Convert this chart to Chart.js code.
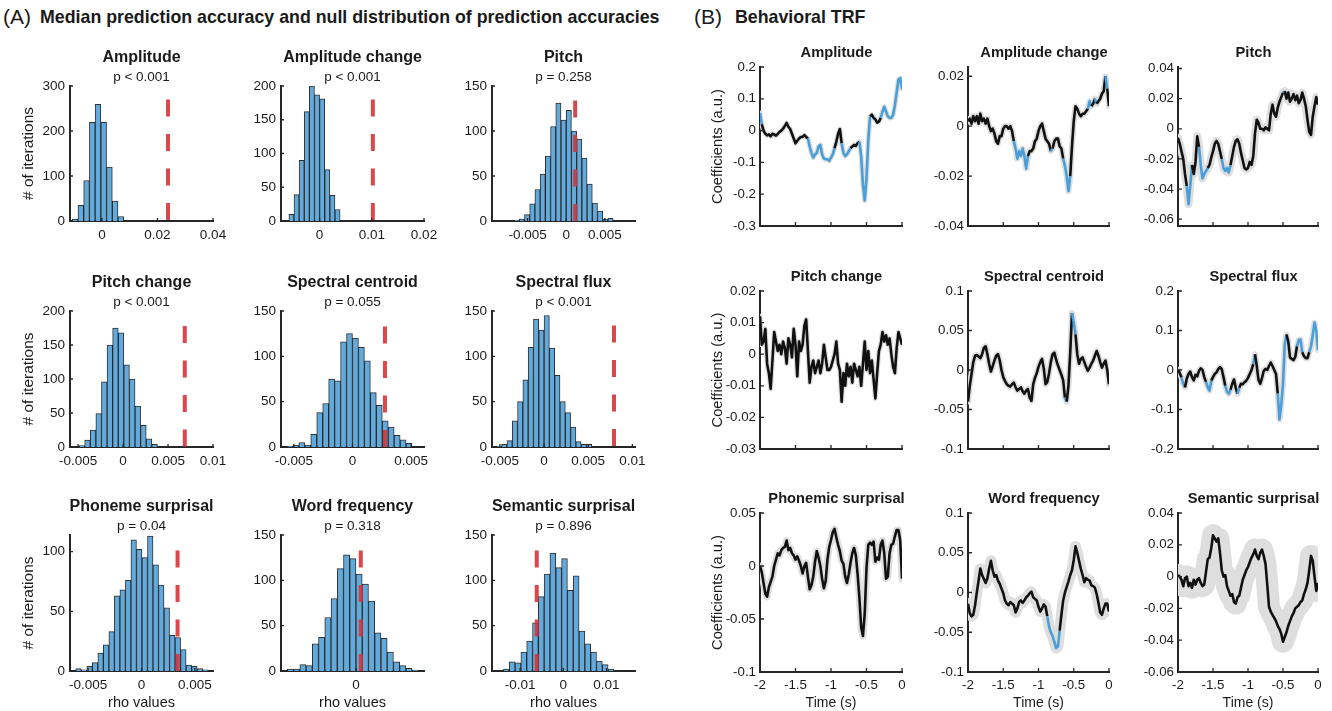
<!DOCTYPE html>
<html><head><meta charset="utf-8">
<script src="https://cdn.jsdelivr.net/npm/chart.js@4.4.1/dist/chart.umd.min.js"></script>
<style>
html,body{margin:0;padding:0;background:#fff;}
body{width:1332px;height:711px;position:relative;overflow:hidden;font-family:"Liberation Sans",Arial,Helvetica,sans-serif;color:#1a1a1a;}
canvas{position:absolute;}
.hdr{position:absolute;white-space:nowrap;line-height:1;}
.lbl{font-size:21px;font-weight:normal;}
.txt{font-size:17.8px;font-weight:bold;}
</style></head><body>
<div class="hdr lbl" style="left:3px;top:6px;">(A)</div>
<div class="hdr txt" style="left:40px;top:9px;">Median prediction accuracy and null distribution of prediction accuracies</div>
<div class="hdr lbl" style="left:694px;top:6px;">(B)</div>
<div class="hdr txt" style="left:735px;top:9px;">Behavioral TRF</div>
<script>
// ================= Panel A: null distributions =================
const histTitles = ['Amplitude','Amplitude change','Pitch','Pitch change','Spectral centroid','Spectral flux','Phoneme surprisal','Word frequency','Semantic surprisal'];
const histP = ['p < 0.001','p < 0.001','p = 0.258','p < 0.001','p = 0.055','p < 0.001','p = 0.04','p = 0.318','p = 0.896'];

const cntAmplitude    = [4,35,90,219,259,219,120,44,10];
const cntAmpChange    = [10,39,90,162,200,187,181,76,38,17];
const cntPitch        = [1,2,7,19,35,52,72,105,131,112,123,100,91,70,41,20,11,2,3];
const cntPitchChange  = [2,10,25,49,96,150,175,168,121,100,60,32,12,4];
const cntSpecCentroid = [1,2,5,2,14,38,48,75,73,116,125,120,110,95,60,46,29,22,13,8,4];
const cntSpecFlux     = [1,3,7,29,50,74,110,141,129,145,109,79,50,38,22,6,3,3];
const cntPhoneme      = [2,1,4,7,15,22,33,63,68,76,110,102,95,113,89,72,53,30,28,18,5,4,2,1];
const cntWordFreq     = [2,2,7,6,30,37,59,80,113,128,124,107,96,77,42,36,21,10,6,3,1];
const cntSemantic     = [2,10,9,21,33,53,82,107,130,114,124,89,105,44,30,21,11,7,2];

// [first bin edge, bin width]
const binAmplitude    = [-0.01069, 0.00206];
const binAmpChange    = [-0.00589, 0.000981];
const binPitch        = [-0.00675, 0.000675];
const binPitchChange  = [-0.00489, 0.000622];
const binSpecCentroid = [-0.00559, 0.000508];
const binSpecFlux     = [-0.00541, 0.000601];
const binPhoneme      = [-0.00616, 0.000517];
const binWordFreq     = [-0.0087, 0.00079];
const binSemantic     = [-0.01385, 0.001346];

// observed median accuracy (red dashed line) and its top
const obsRho = [0.0238, 0.0102, 0.00116, 0.00686, 0.00277, 0.00792, 0.00338, 0.0006, -0.00614];
const obsTop = [270, 180, 134, 178, 133, 134, 101, 133, 133];

const histXRange = [[-0.0115,0.04],[-0.0074,0.02],[-0.0096,0.0089],[-0.0059,0.01],[-0.0061,0.0061],[-0.0059,0.0103],[-0.0067,0.0067],[-0.0095,0.0086],[-0.0165,0.0166]];
const histXTicks = [[0,0.02,0.04],[0,0.01,0.02],[-0.005,0,0.005],[-0.005,0,0.005,0.01],[-0.005,0,0.005],[-0.005,0,0.005,0.01],[-0.005,0,0.005],[0],[-0.01,0,0.01]];
const histYMax   = [300,200,150,200,150,150,114,150,150];
const histYTicks = [[0,100,200,300],[0,50,100,150,200],[0,50,100,150],[0,50,100,150,200],[0,50,100,150],[0,50,100,150],[0,50,100],[0,50,100,150],[0,50,100,150]];

const histCounts = [cntAmplitude,cntAmpChange,cntPitch,cntPitchChange,cntSpecCentroid,cntSpecFlux,cntPhoneme,cntWordFreq,cntSemantic];
const histBins   = [binAmplitude,binAmpChange,binPitch,binPitchChange,binSpecCentroid,binSpecFlux,binPhoneme,binWordFreq,binSemantic];

// ================= Panel B: behavioral TRFs =================
const trfTitles = ['Amplitude','Amplitude change','Pitch','Pitch change','Spectral centroid','Spectral flux','Phonemic surprisal','Word frequency','Semantic surprisal'];
const trfTime = [-2,-1.975,-1.95,-1.925,-1.9,-1.875,-1.85,-1.825,-1.8,-1.775,-1.75,-1.725,-1.7,-1.675,-1.65,-1.625,-1.6,-1.575,-1.55,-1.525,-1.5,-1.475,-1.45,-1.425,-1.4,-1.375,-1.35,-1.325,-1.3,-1.275,-1.25,-1.225,-1.2,-1.175,-1.15,-1.125,-1.1,-1.075,-1.05,-1.025,-1,-0.975,-0.95,-0.925,-0.9,-0.875,-0.85,-0.825,-0.8,-0.775,-0.75,-0.725,-0.7,-0.675,-0.65,-0.625,-0.6,-0.575,-0.55,-0.525,-0.5,-0.475,-0.45,-0.425,-0.4,-0.375,-0.35,-0.325,-0.3,-0.275,-0.25,-0.225,-0.2,-0.175,-0.15,-0.125,-0.1,-0.075,-0.05,-0.025,0];

const trfAmplitude = [0.055,0.02,0.0,-0.01,-0.015,-0.012,-0.018,-0.01,-0.012,-0.016,-0.01,-0.004,0.0,0.006,0.015,0.024,0.012,0.005,-0.01,-0.025,-0.04,-0.032,-0.025,-0.02,-0.02,-0.014,-0.02,-0.025,-0.05,-0.07,-0.085,-0.075,-0.07,-0.05,-0.045,-0.075,-0.088,-0.09,-0.09,-0.095,-0.085,-0.075,-0.055,-0.035,-0.01,0.005,-0.04,-0.07,-0.08,-0.075,-0.065,-0.055,-0.05,-0.045,-0.048,-0.04,-0.035,-0.08,-0.17,-0.22,-0.15,-0.03,0.045,0.05,0.04,0.035,0.025,0.028,0.04,0.06,0.075,0.06,0.045,0.04,0.04,0.05,0.08,0.12,0.16,0.165,0.13];
const trfAmpChange = [0.002,0.003,0.001,0.004,0.002,0.004,0.001,0.005,0.002,0.003,0.001,0.003,0.0,-0.002,-0.001,-0.003,-0.006,-0.007,-0.004,-0.004,-0.001,0.0,0.0,-0.001,0.0,-0.002,-0.006,-0.009,-0.013,-0.01,-0.012,-0.009,-0.012,-0.017,-0.012,-0.01,-0.01,-0.009,-0.006,-0.005,-0.002,0.0,0.001,-0.002,-0.005,-0.006,-0.007,-0.01,-0.009,-0.006,-0.005,-0.005,-0.008,-0.009,-0.013,-0.016,-0.02,-0.026,-0.02,-0.008,0.002,0.008,0.007,0.005,0.004,0.005,0.005,0.006,0.007,0.01,0.008,0.009,0.011,0.009,0.01,0.011,0.013,0.014,0.02,0.015,0.008];
const trfPitch = [-0.006,-0.01,-0.015,-0.02,-0.03,-0.038,-0.05,-0.038,-0.024,-0.03,-0.022,-0.005,-0.012,-0.024,-0.033,-0.03,-0.028,-0.026,-0.024,-0.019,-0.015,-0.01,-0.008,-0.01,-0.015,-0.02,-0.026,-0.028,-0.026,-0.029,-0.024,-0.018,-0.012,-0.008,-0.007,-0.01,-0.016,-0.021,-0.026,-0.027,-0.026,-0.022,-0.024,-0.018,-0.003,0.006,0.004,0.0,0.0,-0.001,0.001,0.0,-0.001,0.01,0.016,0.01,0.008,0.014,0.018,0.021,0.024,0.025,0.02,0.024,0.018,0.02,0.023,0.019,0.022,0.017,0.019,0.024,0.02,0.015,0.006,-0.002,-0.004,0.008,0.015,0.021,0.016];
const trfPitchChange = [0.012,0.003,0.004,0.008,-0.003,-0.006,-0.011,-0.002,0.007,0.004,0.001,0.003,0.0,0.004,0.002,-0.003,0.005,0.003,-0.001,0.008,0.003,-0.007,0.004,0.001,0.003,0.009,0.011,0.001,-0.009,-0.004,-0.002,-0.006,-0.004,-0.002,-0.006,-0.003,0.003,-0.001,-0.005,-0.005,-0.004,-0.002,0.0,0.004,-0.003,-0.005,-0.015,-0.006,-0.01,-0.003,-0.007,-0.004,-0.009,-0.003,-0.005,-0.007,-0.004,-0.01,-0.003,0.004,-0.005,0.001,-0.006,-0.002,-0.008,-0.014,-0.006,0.001,0.003,0.007,0.004,0.006,0.003,0.005,0.0,-0.004,-0.006,0.002,0.007,0.005,0.003];
const trfSpecCentroid = [-0.04,-0.02,-0.005,0.01,0.018,0.019,0.017,0.015,0.02,0.028,0.03,0.02,0.008,-0.002,0.005,0.012,0.018,0.02,0.012,0.0,-0.009,-0.014,-0.018,-0.02,-0.021,-0.018,-0.016,-0.022,-0.026,-0.024,-0.022,-0.027,-0.03,-0.026,-0.024,-0.035,-0.039,-0.018,-0.01,-0.004,0.004,0.01,0.014,0.002,-0.018,-0.015,-0.004,0.01,0.02,0.022,0.013,0.006,0.0,-0.006,-0.013,-0.035,-0.04,-0.02,0.022,0.072,0.06,0.045,0.02,0.008,0.014,0.016,0.01,0.004,-0.001,0.003,0.008,0.012,0.018,0.024,0.018,0.01,0.003,0.008,0.012,0.0,-0.018];
const trfSpecFlux = [0,-0.008,-0.019,-0.035,-0.044,-0.022,-0.01,-0.004,-0.018,-0.026,-0.012,-0.016,-0.002,0.004,0.0,-0.018,-0.03,-0.044,-0.052,-0.027,-0.018,-0.01,-0.006,0.002,0.007,0.002,-0.018,-0.04,-0.055,-0.06,-0.05,-0.035,-0.024,-0.045,-0.06,-0.045,-0.035,-0.036,-0.031,-0.027,-0.02,-0.01,0.0,0.015,0.04,0.01,-0.025,-0.035,-0.02,-0.002,0.003,0.0,0.01,0.019,0.01,0.0,-0.01,-0.06,-0.125,-0.088,-0.035,0.065,0.09,0.072,0.032,0.028,0.025,0.033,0.06,0.076,0.077,0.045,0.035,0.03,0.03,0.045,0.06,0.088,0.12,0.1,0.05];
const trfPhonemic = [0.0,-0.006,-0.016,-0.026,-0.029,-0.02,-0.015,-0.01,0.0,0.006,0.012,0.01,0.015,0.017,0.018,0.024,0.015,0.017,0.012,0.01,0.006,0.009,0.005,0.0,-0.007,0.0,0.003,-0.01,-0.022,-0.018,-0.01,0.004,0.014,0.008,0.0,-0.012,-0.021,-0.014,0.006,0.018,0.0245,0.032,0.035,0.027,0.02,0.014,0.005,0.002,-0.01,-0.016,-0.008,0.003,0.012,0.017,0.01,-0.008,-0.03,-0.058,-0.066,-0.045,-0.002,0.02,0.022,0.02,0.023,0.004,0.008,0.006,0.02,0.024,0.012,-0.012,-0.01,0.012,0.02,0.021,0.028,0.034,0.034,0.024,-0.012];
const trfWordFreq = [-0.014,-0.026,-0.03,-0.028,-0.016,0.0,0.015,0.03,0.022,0.017,0.012,0.018,0.03,0.04,0.028,0.02,0.022,0.015,0.011,0.005,-0.001,-0.01,-0.014,-0.016,-0.012,-0.014,-0.016,-0.025,-0.02,-0.012,-0.01,-0.013,-0.01,-0.006,-0.004,-0.001,0.001,-0.006,-0.008,-0.01,-0.018,-0.024,-0.02,-0.015,-0.018,-0.03,-0.043,-0.05,-0.055,-0.062,-0.07,-0.068,-0.048,-0.028,-0.01,0.0,0.007,0.014,0.022,0.028,0.041,0.058,0.05,0.04,0.03,0.022,0.013,0.018,0.016,0.015,0.009,0.008,0.006,-0.002,-0.013,-0.025,-0.028,-0.02,-0.014,-0.014,-0.024];
const trfSemantic = [0.001,0.0,-0.002,-0.006,-0.001,0.0,-0.006,-0.004,-0.007,-0.002,-0.005,-0.002,-0.001,-0.004,-0.006,-0.005,0.003,0.011,0.012,0.018,0.026,0.024,0.022,0.024,0.015,0.004,0.0,0.001,-0.006,-0.009,-0.012,-0.011,-0.016,-0.017,-0.013,-0.012,-0.007,-0.002,0.001,0.004,0.006,0.009,0.012,0.014,0.017,0.013,0.011,0.015,0.017,0.013,0.008,-0.005,-0.019,-0.022,-0.024,-0.026,-0.028,-0.031,-0.033,-0.036,-0.041,-0.038,-0.035,-0.031,-0.028,-0.025,-0.023,-0.02,-0.019,-0.018,-0.016,-0.015,-0.011,-0.008,-0.004,0.004,0.013,0.01,0.0,-0.009,-0.004];

// significant time windows (drawn in blue)
const sigAmplitude = [[-2,-1.97],[-1.32,-0.945],[-0.84,-0.73],[-0.61,-0.46],[-0.31,0]];
const sigAmpChange = [[-1.34,-1.15],[-0.83,-0.79],[-0.66,-0.55],[-0.29,-0.26],[-0.21,-0.17],[-0.06,-0.02]];
const sigPitch = [[-1.88,-1.80],[-1.71,-1.58],[-1.37,-1.26],[-0.51,-0.47]];
const sigSpecCentroid = [[-0.635,-0.6],[-0.535,-0.475]];
const sigSpecFlux = [[-1.94,-1.89],[-1.59,-1.535],[-1.32,-1.26],[-1.16,-1.125],[-0.92,-0.89],[-0.585,-0.44],[-0.31,-0.235],[-0.13,0]];
const sigWordFreq = [[-0.87,-0.7]];

const trfYRange = [[-0.3,0.2],[-0.04,0.0237],[-0.0645,0.041],[-0.03,0.02],[-0.1,0.1],[-0.2,0.2],[-0.1,0.05],[-0.1,0.1],[-0.06,0.04]];
const trfYTicks = [[-0.3,-0.2,-0.1,0,0.1,0.2],[-0.04,-0.02,0,0.02],[-0.06,-0.04,-0.02,0,0.02,0.04],[-0.03,-0.02,-0.01,0,0.01,0.02],[-0.1,-0.05,0,0.05,0.1],[-0.2,-0.1,0,0.1,0.2],[-0.1,-0.05,0,0.05],[-0.1,-0.05,0,0.05,0.1],[-0.06,-0.04,-0.02,0,0.02,0.04]];
const trfXTicks = [-2,-1.5,-1,-0.5,0];

const trfSeries = [trfAmplitude,trfAmpChange,trfPitch,trfPitchChange,trfSpecCentroid,trfSpecFlux,trfPhonemic,trfWordFreq,trfSemantic];
const trfSig = [sigAmplitude,sigAmpChange,sigPitch,[],sigSpecCentroid,sigSpecFlux,[],sigWordFreq,[]];

// ================= styling / layout =================
const TXT = '#1a1a1a', AXIS = '#262626', BAR = '#62aadc', RED = 'rgba(212,52,58,0.9)';
const BLACK = '#111111', BLUE = '#4a9fd8', GREY = '#dedede';
const bandWidth = [5,6,8,5,6,6,7,11,22];
Chart.defaults.font.family = '"Liberation Sans", Arial, Helvetica, sans-serif';
Chart.defaults.color = TXT;

const histLeft = [70,281,492], histTop = [86,311,535], histH = [135,136,136], histW = 143;
const trfLeft = [760,968,1178], trfW = [142,141,140], trfTop = [67,291,513], trfH = [159,158,159];

const inTicks = {
  id: 'inTicks',
  afterDraw(chart, args, opts) {
    const {ctx, chartArea: a} = chart;
    const x = chart.scales.x, y = chart.scales.y, L = opts.len || 4;
    ctx.save();
    ctx.strokeStyle = AXIS; ctx.lineWidth = 1.3;
    ctx.beginPath();
    x.ticks.forEach(t => { const p = x.getPixelForValue(t.value); ctx.moveTo(p, a.bottom); ctx.lineTo(p, a.bottom - L); });
    y.ticks.forEach(t => { const p = y.getPixelForValue(t.value); ctx.moveTo(a.left, p); ctx.lineTo(a.left + L, p); });
    ctx.stroke();
    ctx.restore();
  }
};

function addCanvas(left, top, w, h) {
  const c = document.createElement('canvas');
  c.width = w; c.height = h;
  c.style.left = left + 'px'; c.style.top = top + 'px';
  c.style.width = w + 'px'; c.style.height = h + 'px';
  document.body.appendChild(c);
  return c;
}

function axisBase(ticksArr, labelFn, size, pad) {
  return {
    type: 'linear', offset: false, z: 1,
    grid: {display: false, drawTicks: false},
    border: {display: true, width: 2, color: AXIS},
    ticks: {autoSkip: false, maxRotation: 0, minRotation: 0, padding: pad, font: {size: size}, color: TXT, callback: labelFn},
    afterBuildTicks: s => { s.ticks = ticksArr.map(v => ({value: v})); }
  };
}
// invisible right-hand spacer axis so that titles centre over the plot area
function spacer(w) {
  return {type: 'linear', position: 'right', display: true, grid: {display: false, drawTicks: false},
          border: {display: false}, ticks: {display: false}, afterFit: s => { s.width = w; }};
}

// ---------- histograms ----------
for (let k = 0; k < 9; k++) {
  const row = Math.floor(k / 3), col = k % 3;
  const YW = 60, PR = 60, TH = 38, XH = row === 2 ? 40 : 30;
  const h = histH[row];
  const cv = addCanvas(histLeft[col] - YW, histTop[row] - TH, YW + histW + PR, TH + h + XH);
  const counts = histCounts[k], bins = histBins[k];
  const bars = counts.map((c, i) => ({x: bins[0] + (i + 0.5) * bins[1], y: c}));
  const xt = histXTicks[k], yt = histYTicks[k];
  const xs = axisBase(xt, v => String(v), 13.5, 6);
  xs.min = histXRange[k][0]; xs.max = histXRange[k][1];
  xs.afterFit = s => { s.height = XH; };
  xs.title = {display: row === 2, text: 'rho values', font: {size: 14.5, lineHeight: 1}, padding: {top: 0, bottom: 0.5}, color: TXT};
  const ys = axisBase(yt, v => String(v), 13.5, 5);
  ys.min = 0; ys.max = histYMax[k];
  ys.afterFit = s => { s.width = YW; };
  ys.title = {display: col === 0, text: '# of iterations', font: {size: 15.5, lineHeight: 1}, padding: {top: 11.25, bottom: 0}, color: TXT};
  new Chart(cv, {
    type: 'bar',
    data: {datasets: [
      {type: 'line', data: [{x: obsRho[k], y: obsTop[k]}, {x: obsRho[k], y: 0}], borderColor: RED, borderWidth: 4,
       borderDash: [17, 17.5], borderCapStyle: 'butt', pointRadius: 0, order: 0, clip: false},
      {type: 'bar', data: bars, backgroundColor: BAR, borderColor: 'rgba(25,25,25,0.9)', borderWidth: 1,
       barPercentage: 1, categoryPercentage: 1, order: 1}
    ]},
    options: {
      responsive: false, animation: false, devicePixelRatio: 1,
      layout: {padding: 0},
      plugins: {
        legend: {display: false}, tooltip: {enabled: false},
        title: {display: true, text: histTitles[k], color: TXT, font: {size: 16, weight: 'bold', lineHeight: 1}, padding: {top: 2, bottom: 4.25}},
        subtitle: {display: true, text: histP[k], color: TXT, font: {size: 13.5, lineHeight: 1}, padding: {top: 0, bottom: 2.25}},
        inTicks: {len: 3}
      },
      scales: {x: xs, y: ys, yr: spacer(PR)}
    },
    plugins: [inTicks]
  });
}

// ---------- TRFs ----------
function inSig(list, t) { return list.some(r => t >= r[0] && t <= r[1]); }
for (let k = 0; k < 9; k++) {
  const row = Math.floor(k / 3), col = k % 3;
  const YW = 55, PR = 66, TH = 25, XH = row === 2 ? 40 : 25;
  const w = trfW[col], h = trfH[row];
  const cv = addCanvas(trfLeft[col] - YW, trfTop[row] - TH, YW + w + PR, TH + h + XH);
  const pts = trfTime.map((t, i) => ({x: t, y: trfSeries[k][i]}));
  const sig = trfSig[k];
  const xs = axisBase(trfXTicks, v => row === 2 ? String(v) : '', 13.3, 5);
  xs.min = -2; xs.max = 0;
  xs.afterFit = s => { s.height = XH; };
  xs.title = {display: row === 2, text: 'Time (s)', font: {size: 14, lineHeight: 1}, padding: {top: 0, bottom: 1.7}, color: TXT};
  const ys = axisBase(trfYTicks[k], v => String(v), 13.3, 4);
  ys.min = trfYRange[k][0]; ys.max = trfYRange[k][1];
  ys.afterFit = s => { s.width = YW; };
  ys.title = {display: col === 0, text: 'Coefficients (a.u.)', font: {size: 14.7, lineHeight: 1}, padding: {top: 5.95, bottom: 0}, color: TXT};
  new Chart(cv, {
    type: 'line',
    data: {datasets: [
      {data: pts, borderColor: BLACK, borderWidth: 2.6, pointRadius: 0, tension: 0, order: 0,
       borderJoinStyle: 'round',
       segment: {borderColor: c => inSig(sig, (c.p0.parsed.x + c.p1.parsed.x) / 2) ? BLUE : BLACK}},
      {data: pts, borderColor: GREY, borderWidth: bandWidth[k], pointRadius: 0, tension: 0, order: 1,
       borderJoinStyle: 'round', borderCapStyle: 'round', clip: 0}
    ]},
    options: {
      responsive: false, animation: false, devicePixelRatio: 1,
      layout: {padding: 0},
      plugins: {
        legend: {display: false}, tooltip: {enabled: false},
        title: {display: true, text: trfTitles[k], color: TXT, font: {size: 14.7, weight: 'bold', lineHeight: 1}, padding: {top: 4, bottom: 6.3}},
        inTicks: {len: 4}
      },
      scales: {x: xs, y: ys, yr: spacer(PR)}
    },
    plugins: [inTicks]
  });
}
</script>
</body></html>
